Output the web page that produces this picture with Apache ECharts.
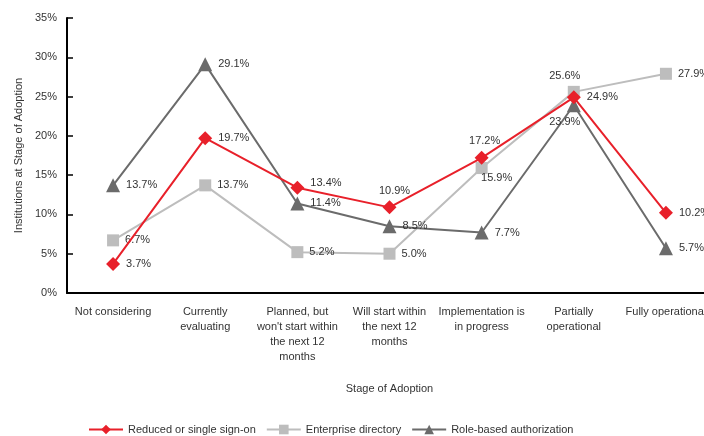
<!DOCTYPE html>
<html>
<head>
<meta charset="utf-8">
<script src="https://cdn.jsdelivr.net/npm/echarts@6/dist/echarts.min.js"></script>
<style>html,body{margin:0;padding:0;background:#fff}#c{width:704px;height:436px}</style>
</head>
<body>
<div id="c"></div>
<script>
const categories = ["Not considering","Currently\nevaluating","Planned, but\nwon't start within\nthe next 12\nmonths","Will start within\nthe next 12\nmonths","Implementation is\nin progress","Partially\noperational","Fully operational"];
const ssoValues = [3.7, 19.7, 13.4, 10.9, 17.2, 24.9, 10.2];
const dirValues = [6.7, 13.7, 5.2, 5.0, 15.9, 25.6, 27.9];
const rbaValues = [13.7, 29.1, 11.4, 8.5, 7.7, 23.9, 5.7];
const yTicks = [0, 5, 10, 15, 20, 25, 30, 35];

// label placement (style only)
const ssoLabelPos = [['right',0,0],['right',0,0],['right',0,-5],['top',5,0],['top',3,0],['right',0,0],['right',0,0]];
const dirLabelPos = [['right',0,0],['right',0,0],['right',0,0],['right',0,0],['bottom',15,-6],['top',-9,0],['right',0,0]];
const rbaLabelPos = [['right',0,0],['right',0,0],['right',0,0],['right',0,0],['right',0,0],['bottom',-9,0],['right',0,0]];

const FONT = "'Liberation Sans Narrow','Arial Narrow','Liberation Sans',sans-serif";
const TXT = '#333';
const FS = 11;

function mk(values, pos) {
  return values.map((v, i) => {
    const [p, dx, dy] = pos[i];
    return {value: v, label: {position: p, offset: [dx, dy], distance: p === 'right' ? 6 : 4}};
  });
}
function series(name, values, pos, color, symbol, size, z) {
  return {
    name, type: 'line', data: mk(values, pos), symbol, symbolSize: size, z,
    lineStyle: {color, width: 2}, itemStyle: {color},
    label: {show: true, formatter: p => p.value.toFixed(1) + '%', fontFamily: FONT, fontSize: FS, color: TXT},
    emphasis: {disabled: true}, animation: false
  };
}
const chart = echarts.init(document.getElementById('c'));
chart.setOption({
  animation: false,
  textStyle: {fontFamily: FONT},
  grid: {left: 67, top: 18, width: 645, height: 275, containLabel: false, outerBoundsMode: 'none'},
  xAxis: {
    type: 'category', data: categories, boundaryGap: true,
    name: 'Stage of Adoption', nameLocation: 'middle', nameGap: 90,
    nameTextStyle: {fontFamily: FONT, fontSize: FS, color: TXT},
    axisLine: {lineStyle: {color: '#000', width: 2}},
    axisTick: {inside: true, length: 6, lineStyle: {color: '#000', width: 1.5}},
    axisLabel: {interval: 0, fontFamily: FONT, fontSize: FS, color: TXT, margin: 11, lineHeight: 15}
  },
  yAxis: {
    type: 'value', min: yTicks[0], max: yTicks[yTicks.length - 1], interval: 5,
    name: 'Institutions at Stage of Adoption', nameLocation: 'middle', nameGap: 43,
    nameTextStyle: {fontFamily: FONT, fontSize: FS, color: TXT},
    axisLine: {show: true, lineStyle: {color: '#000', width: 2}},
    axisTick: {show: true, inside: true, length: 6, lineStyle: {color: '#000', width: 1.5}},
    splitLine: {show: false},
    axisLabel: {formatter: v => v + '%', fontFamily: FONT, fontSize: FS, color: TXT, margin: 10}
  },
  legend: {
    left: 83, top: 419, itemWidth: 34, itemHeight: 12, itemGap: 10,
    textStyle: {fontFamily: FONT, fontSize: FS, color: TXT},
    data: ['Reduced or single sign-on', 'Enterprise directory', 'Role-based authorization']
  },
  series: [
    series('Reduced or single sign-on', ssoValues, ssoLabelPos, '#e8202a', 'diamond', 14, 5),
    series('Enterprise directory', dirValues, dirLabelPos, '#bdbdbd', 'rect', 12, 3),
    series('Role-based authorization', rbaValues, rbaLabelPos, '#6b6b6b', 'triangle', 14, 4)
  ]
});
</script>
</body>
</html>
